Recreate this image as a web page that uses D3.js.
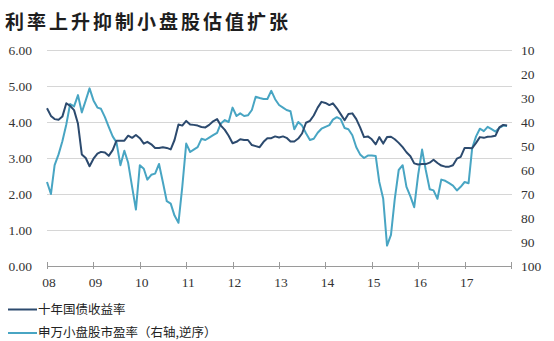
<!DOCTYPE html>
<html><head><meta charset="utf-8">
<script src="https://cdn.jsdelivr.net/npm/d3@7"></script>
<style>html,body{margin:0;padding:0;background:#fff;}svg{display:block;}</style>
</head><body>
<svg id="c" width="554" height="341"></svg>
<script>
const title = "利率上升抑制小盘股估值扩张";
const seriesNames = ["十年国债收益率", "申万小盘股市盈率（右轴,逆序）"];
const yearLabels = ["08","09","10","11","12","13","14","15","16","17"];
const leftTicks = [0,1,2,3,4,5,6];
const rightTicks = [10,20,30,40,50,60,70,80,90,100];
const startMonth = "2008-01";
// 10-year government bond yield (%), monthly from 2008-01
const yieldVals = [
 4.38,4.17,4.08,4.06,4.15,4.52,4.45,4.33,3.95,3.10,3.00,2.77,
 2.98,3.12,3.17,3.15,3.06,3.22,3.48,3.48,3.48,3.62,3.56,3.64,
 3.55,3.40,3.45,3.38,3.28,3.28,3.30,3.28,3.24,3.50,3.93,3.90,
 4.03,3.93,3.92,3.90,3.86,3.85,3.92,4.02,4.08,3.90,3.78,3.62,
 3.41,3.45,3.52,3.50,3.50,3.36,3.33,3.30,3.45,3.55,3.55,3.60,
 3.57,3.60,3.56,3.46,3.46,3.54,3.68,3.98,4.03,4.18,4.40,4.56,
 4.53,4.47,4.52,4.38,4.22,4.05,4.22,4.24,4.08,3.85,3.58,3.60,
 3.52,3.38,3.58,3.40,3.58,3.59,3.52,3.42,3.30,3.16,3.05,2.85,
 2.82,2.83,2.83,2.87,2.95,2.86,2.79,2.76,2.76,2.80,2.98,3.03,
 3.28,3.28,3.27,3.42,3.58,3.56,3.59,3.60,3.62,3.85,3.92,3.90
];
// SW small-cap P/E (right axis, reversed), monthly from 2008-01
const peVals = [
 65,70,58,53.5,48,41,32.5,33.5,28.8,36,31,26,
 31,34,34.5,38,42,46,48.5,58,52,57,67,76.5,
 58,59.5,64,62,61.5,57.5,65,73,74,79,82,67,
 49,52.5,51.5,50.5,47,47.5,46.5,45.5,44.5,40.6,39.2,40,
 34,37.5,36.4,37.5,37.2,35,29.5,30,30.4,30.4,27,30.5,
 32.9,34,35,35.5,43,40,41.5,44.7,47.5,47,44.5,42.8,
 42,41.3,39,38,38.8,42.5,43,45.5,50.5,53.5,55,54,
 54,54.2,65,72,91.5,87,72,60,58,67,71,75.5,
 62,51.5,60,68,68.5,72,64,64.5,65.5,66.5,68.5,67,
 65,65.5,51,46,42.8,43.8,42,43,44,42.5,41.5,41.7
];

const svg = d3.select("#c");
const plot = {left: 47, right: 511, top: 50, bottom: 266};
const parse = d3.timeParse("%Y-%m");
const t0 = parse(startMonth);
const months = d3.timeMonth.range(t0, d3.timeMonth.offset(t0, yieldVals.length));
const x = d3.scaleTime().domain([t0, d3.timeYear.offset(t0, yearLabels.length)]).range([plot.left, plot.right]);
const yL = d3.scaleLinear().domain([0, 6]).range([plot.bottom, plot.top]);
const yR = d3.scaleLinear().domain([10, 100]).range([plot.top, plot.bottom]);

const navy = "#2c4a6e", teal = "#48a5c3";

// title
svg.append("text").attr("x", 5).attr("y", 20.5).attr("dominant-baseline", "central")
  .attr("font-family", "'Noto Sans CJK SC', sans-serif").attr("font-weight", "bold")
  .attr("font-size", 19).attr("letter-spacing", 3).attr("fill", "#1e1e1e").text(title);

// gridlines
svg.append("g").selectAll("line").data(leftTicks.filter(d => d > 0)).join("line")
  .attr("x1", plot.left).attr("x2", plot.right + 1)
  .attr("y1", d => Math.round(yL(d)) + 0.5).attr("y2", d => Math.round(yL(d)) + 0.5)
  .attr("stroke", "#d6d6d6").attr("stroke-width", 1);

// left axis labels
svg.append("g").selectAll("text").data(leftTicks).join("text")
  .attr("x", 32).attr("y", d => yL(d)).attr("dy", "0.35em").attr("text-anchor", "end")
  .attr("font-family", "'Liberation Serif', serif").attr("font-size", 13.5).attr("fill", "#333")
  .text(d => d3.format(".2f")(d));

// right axis labels
svg.append("g").selectAll("text").data(rightTicks).join("text")
  .attr("x", 521).attr("y", d => yR(d)).attr("dy", "0.35em").attr("text-anchor", "start")
  .attr("font-family", "'Liberation Serif', serif").attr("font-size", 13.5).attr("fill", "#333")
  .text(d => d);

// x axis
const years = d3.timeYear.range(t0, d3.timeYear.offset(t0, yearLabels.length + 1));
const xAxis = svg.append("g");
xAxis.append("line").attr("x1", plot.left).attr("x2", plot.right + 1)
  .attr("y1", plot.bottom + 0.5).attr("y2", plot.bottom + 0.5).attr("stroke", "#9a9a9a");
xAxis.selectAll("line.tk").data(years).join("line").attr("class", "tk")
  .attr("x1", d => Math.round(x(d)) + 0.5).attr("x2", d => Math.round(x(d)) + 0.5)
  .attr("y1", plot.bottom - 4).attr("y2", plot.bottom + 3).attr("stroke", "#9a9a9a");
xAxis.selectAll("text").data(yearLabels).join("text")
  .attr("x", (d, i) => x(years[i]) + 2).attr("y", 287).attr("text-anchor", "middle")
  .attr("font-family", "'Liberation Serif', serif").attr("font-size", 13.5).attr("fill", "#333")
  .text(d => d);

// lines
const lineL = d3.line().x((d, i) => x(months[i])).y(d => yL(d));
const lineR = d3.line().x((d, i) => x(months[i])).y(d => yR(d));
svg.append("path").datum(peVals).attr("d", lineR).attr("fill", "none")
  .attr("stroke", teal).attr("stroke-width", 2).attr("stroke-linejoin", "round");
svg.append("path").datum(yieldVals).attr("d", lineL).attr("fill", "none")
  .attr("stroke", navy).attr("stroke-width", 2).attr("stroke-linejoin", "round");

// legend
const leg = svg.append("g");
const legY = [309.5, 333];
[navy, teal].forEach((c, i) => {
  leg.append("line").attr("x1", 8).attr("x2", 37).attr("y1", legY[i]).attr("y2", legY[i])
    .attr("stroke", c).attr("stroke-width", 2);
  leg.append("text").attr("x", 38).attr("y", legY[i]).attr("dy", "0.35em")
    .attr("font-family", "'Noto Sans CJK SC', sans-serif").attr("font-size", 12.5)
    .attr("fill", "#222").text(seriesNames[i]);
});
</script>
</body></html>
